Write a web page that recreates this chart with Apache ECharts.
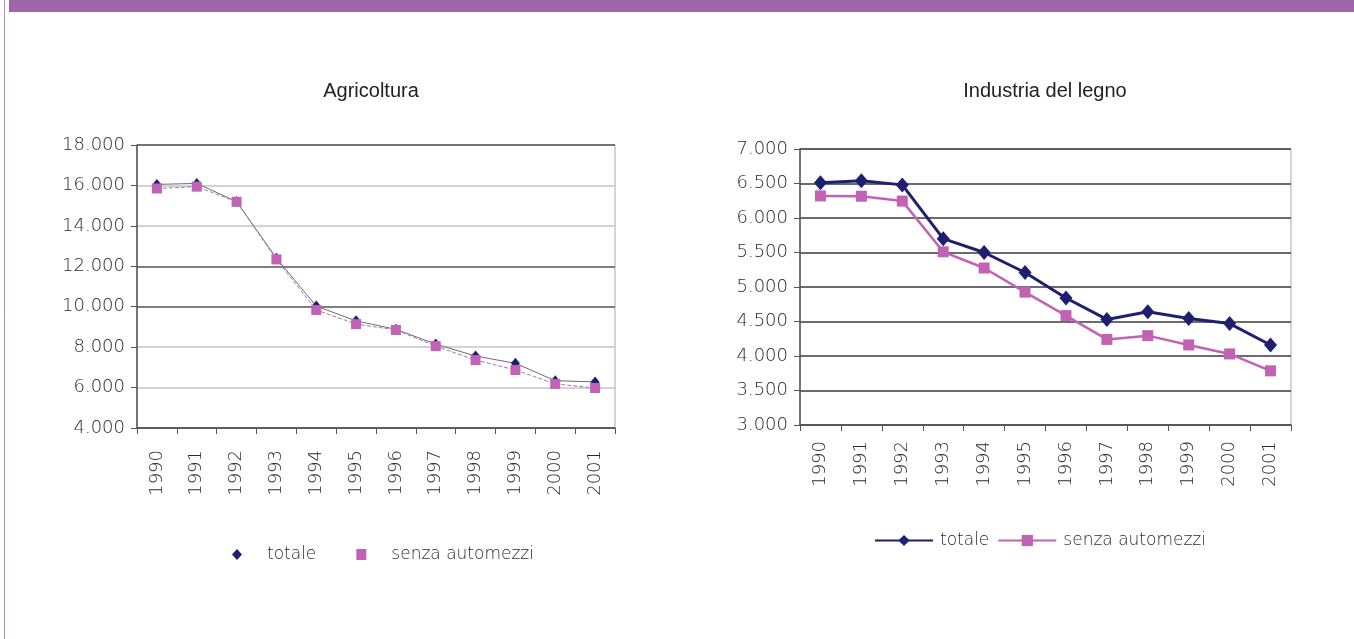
<!DOCTYPE html>
<html><head><meta charset="utf-8">
<style>html,body{margin:0;padding:0;background:#fff}#c{width:1354px;height:639px}</style>
<script src="https://cdn.jsdelivr.net/npm/echarts@6/dist/echarts.min.js"></script>
</head><body><div id="c"></div>
<script>
const years = ['1990','1991','1992','1993','1994','1995','1996','1997','1998','1999','2000','2001'];
const agriTotale = [16050, 16100, 15200, 12400, 10030, 9300, 8880, 8150, 7560, 7200, 6340, 6280];
const agriSenza  = [15850, 15940, 15190, 12340, 9840, 9140, 8850, 8050, 7360, 6870, 6180, 5980];
const legnoTotale = [6510, 6540, 6480, 5700, 5500, 5210, 4840, 4530, 4640, 4545, 4470, 4160];
const legnoSenza  = [6320, 6315, 6245, 5510, 5275, 4925, 4585, 4240, 4295, 4160, 4030, 3785];
const agriTicks = {min: 4000, max: 18000, interval: 2000};
const legnoTicks = {min: 3000, max: 7000, interval: 500};

const FONT = 'DejaVu Sans';
const fmt = v => String(v).replace(/(\d)(\d{3})$/, '$1.$2');
const navy = '#1E1F70', pink = '#C262B4';

const chart = echarts.init(document.getElementById('c'), null, {renderer: 'canvas'});
const axLabel = {fontFamily: FONT, fontWeight: 200, fontSize: 18, color: '#2a2a2a'};
function xAx(gi, margin) {
  return {type: 'category', gridIndex: gi, data: years, boundaryGap: true,
    axisLine: {lineStyle: {color: '#555', width: 1.5}},
    axisTick: {show: true, interval: 0, length: 6, lineStyle: {color: '#555'}},
    axisLabel: Object.assign({rotate: 90, interval: 0, margin: margin}, axLabel)};
}
function yAx(gi, t, splitColors) {
  return {type: 'value', gridIndex: gi, min: t.min, max: t.max, interval: t.interval,
    axisLine: {show: true, lineStyle: {color: '#555', width: 1.5}},
    axisTick: {show: true, length: 6, lineStyle: {color: '#555'}},
    splitLine: {show: true, lineStyle: {color: splitColors, width: 1.5}},
    axisLabel: Object.assign({margin: 12, formatter: fmt}, axLabel)};
}
chart.setOption({
  animation: false,
  grid: [
    {left: 137, top: 145, width: 478, height: 283, show: true, borderColor: '#aaa', borderWidth: 1},
    {left: 800, top: 149, width: 491, height: 276, show: true, borderColor: '#aaa', borderWidth: 1}
  ],
  xAxis: [xAx(0, 22), xAx(1, 16)],
  yAxis: [
    yAx(0, agriTicks, ['#555', '#c4c4c4', '#c4c4c4', '#555', '#555', '#c4c4c4', '#c4c4c4', '#555']),
    yAx(1, legnoTicks, '#3a3a3a')
  ],
  legend: [
    {left: 227, top: 541, orient: 'horizontal', itemWidth: 10, itemHeight: 11, itemGap: 40,
     textStyle: {fontFamily: FONT, fontWeight: 200, fontSize: 17, color: '#2a2a2a', padding: [0,0,0,20]},
     data: [{name: 'totale', icon: 'diamond', itemStyle: {color: navy}},
            {name: 'senza automezzi', icon: 'rect', itemStyle: {color: pink}}]},
    {left: 869, top: 527, orient: 'horizontal', itemWidth: 58, itemHeight: 14, itemGap: 8,
     formatter: n => n.trim(),
     textStyle: {fontFamily: FONT, fontWeight: 200, fontSize: 17, color: '#2a2a2a', padding: [0,0,0,2]},
     data: ['totale ', 'senza automezzi ']}
  ],
  series: [
    {name: 'totale', type: 'line', xAxisIndex: 0, yAxisIndex: 0, data: agriTotale,
     symbol: 'diamond', symbolSize: [9, 11], itemStyle: {color: navy},
     lineStyle: {color: '#6a6a7a', width: 1}},
    {name: 'senza automezzi', type: 'line', xAxisIndex: 0, yAxisIndex: 0, data: agriSenza,
     symbol: 'rect', symbolSize: 10, itemStyle: {color: pink},
     lineStyle: {color: '#a07aa8', width: 1, type: 'dashed'}},
    {name: 'totale ', type: 'line', xAxisIndex: 1, yAxisIndex: 1, data: legnoTotale,
     symbol: 'diamond', symbolSize: [13, 15], itemStyle: {color: navy},
     lineStyle: {color: navy, width: 3}},
    {name: 'senza automezzi ', type: 'line', xAxisIndex: 1, yAxisIndex: 1, data: legnoSenza,
     symbol: 'rect', symbolSize: 11, itemStyle: {color: pink},
     lineStyle: {color: pink, width: 2.5}}
  ],
  graphic: [
    {type: 'rect', shape: {x: 9, y: 0, width: 1345, height: 12}, style: {fill: '#A066AA'}, silent: true},
    {type: 'line', shape: {x1: 4.5, y1: 0, x2: 4.5, y2: 639}, style: {stroke: '#B888C0', lineWidth: 1}, silent: true},
    {type: 'text', style: {text: 'Agricoltura', x: 371, y: 91, textAlign: 'center', textVerticalAlign: 'middle',
      font: '20px "Liberation Sans"', fill: '#222'}},
    {type: 'text', style: {text: 'Industria del legno', x: 1045, y: 91, textAlign: 'center', textVerticalAlign: 'middle',
      font: '20px "Liberation Sans"', fill: '#222'}}
  ]
});
</script></body></html>
